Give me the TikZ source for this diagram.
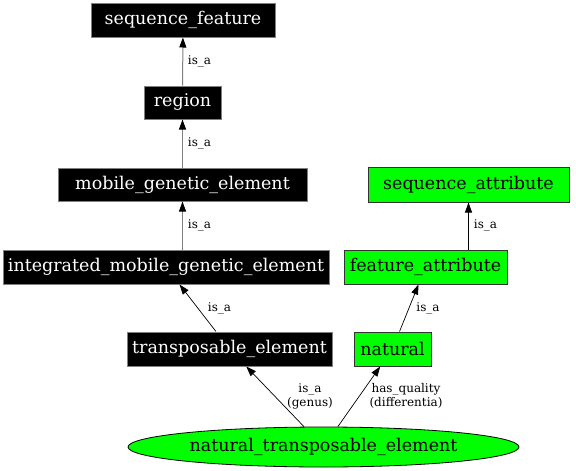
\documentclass[tikz,border=0pt]{standalone}
\usepackage{fontspec}
\setmainfont{DejaVu Serif}
\usetikzlibrary{arrows.meta,shapes.geometric}
\definecolor{nodegreen}{RGB}{0,255,0}
\definecolor{edgegray}{RGB}{128,128,128}
\begin{document}
\begin{tikzpicture}[x=1pt,y=-1pt,
  blk/.style={rectangle,draw=edgegray,line width=1pt,fill=black,text=white,inner sep=0pt,font=\fontsize{17.5}{20}\selectfont},
  grn/.style={rectangle,draw=black!80,line width=1pt,fill=nodegreen,text=black,inner sep=0pt,font=\fontsize{17.5}{20}\selectfont},
  ell/.style={ellipse,draw=black,line width=0.8pt,fill=nodegreen,text=black,inner sep=0pt,font=\fontsize{17.5}{20}\selectfont},
  lbl/.style={inner sep=0pt,align=center,font=\fontsize{12}{14}\selectfont},
  gedge/.style={draw=edgegray,line width=1pt,-{Triangle[length=10pt,width=7pt,color=black]}},
  bedge/.style={draw=black,line width=0.7pt,-{Triangle[length=10pt,width=7pt,color=black]}}]
\useasboundingbox (0,0) rectangle (576,471);
\node[blk,minimum width=184pt,minimum height=34pt] (sf) at (183,20) {sequence\_feature};
\node[blk,minimum width=77pt,minimum height=33pt] (reg) at (182.5,102.5) {region};
\node[blk,minimum width=249pt,minimum height=33pt] (mge) at (182.5,184.5) {mobile\_genetic\_element};
\node[blk,minimum width=326pt,minimum height=34pt] (imge) at (166,267) {integrated\_mobile\_genetic\_element};
\node[blk,minimum width=205pt,minimum height=34pt] (te) at (229.5,349) {transposable\_element};
\node[grn,minimum width=201pt,minimum height=35pt] (sa) at (468.5,184.5) {sequence\_attribute};
\node[grn,minimum width=163pt,minimum height=34pt] (fa) at (425.5,267) {feature\_attribute};
\node[grn,minimum width=77pt,minimum height=34pt] (nat) at (392.5,349) {natural};
\node[ell,minimum width=391pt,minimum height=40pt] (nte) at (323.5,447) {natural\_transposable\_element};
\draw[gedge] (reg) -- (sf);
\draw[gedge] (mge) -- (reg);
\draw[gedge] (imge.north -| mge) -- (mge);
\draw[bedge] (fa.north -| sa) -- (sa);
\draw[bedge] (te) -- (imge);
\draw[bedge] (nat) -- (fa);
\draw[bedge] (nte) -- (te);
\draw[bedge] (nte) -- (nat);
\node[lbl] (l1) at (199.5,61) {is\_a};
\node[lbl] (l2) at (199.5,143) {is\_a};
\node[lbl] (l3) at (199.5,225) {is\_a};
\node[lbl] (l4) at (485.5,225) {is\_a};
\node[lbl] (l5) at (219.5,308) {is\_a};
\node[lbl] (l6) at (428,308) {is\_a};
\node[lbl] (l7) at (310,396) {is\_a\\(genus)};
\node[lbl] (l8) at (406,396) {has\_quality\\(differentia)};
\end{tikzpicture}
\end{document}
